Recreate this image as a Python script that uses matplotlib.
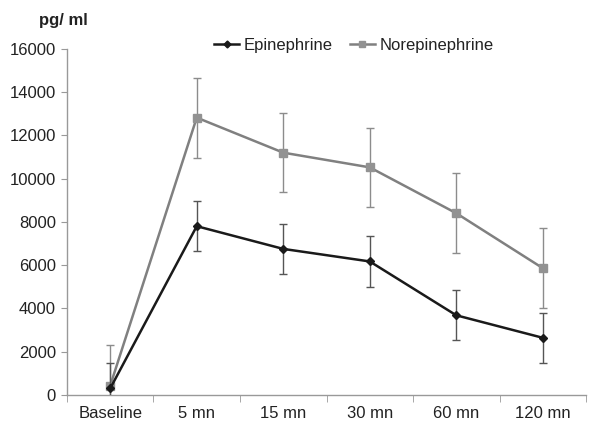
import numpy as np
import matplotlib
matplotlib.use("Agg")
from matplotlib import pyplot as plt
from matplotlib.lines import Line2D

plt.rcParams['font.family'] = ['Liberation Sans', 'DejaVu Sans']

labels = ["Baseline", "5 mn", "15 mn", "30 mn", "60 mn", "120 mn"]
epi = [300, 7800, 6750, 6170, 3680, 2640]
epi_err = [1180, 1150, 1150, 1170, 1150, 1160]
nor = [430, 12820, 11200, 10520, 8400, 5860]
nor_err = [1870, 1850, 1830, 1820, 1850, 1850]

fig = plt.figure(figsize=(5.98, 4.21), dpi=100)
ax = fig.add_axes([0.112, 0.062, 0.868, 0.822])

x = np.arange(len(labels))
ax.errorbar(x, nor, yerr=nor_err, color='#808080', lw=1.8, marker='s', ms=5.5,
            mfc='#929292', mec='#929292', ecolor='#8c8c8c', elinewidth=1,
            capsize=3, capthick=1, zorder=2)
ax.errorbar(x, epi, yerr=epi_err, color='#1a1a1a', lw=1.8, marker='D', ms=4,
            ecolor='#555555', elinewidth=1, capsize=3, capthick=1, zorder=3)

ax.set_xlim(-0.5, 5.5)
ax.set_ylim(0, 16000)
ax.set_yticks(np.arange(0, 16001, 2000))
ax.set_xticks(x)
ax.set_xticklabels(labels)
ax.set_xticks(np.arange(-0.5, 5.6, 1), minor=True)
ax.tick_params(axis='x', which='major', length=0, pad=8, labelsize=12, labelcolor='#222222')
ax.tick_params(axis='x', which='minor', length=5, color='#999999')
ax.tick_params(axis='y', length=4, color='#999999', labelsize=12, pad=4, labelcolor='#222222')

for s in ['top', 'right']:
    ax.spines[s].set_visible(False)
for s in ['left', 'bottom']:
    ax.spines[s].set_color('#999999')
    ax.spines[s].set_linewidth(1)

handles = [Line2D([], [], color='#1a1a1a', lw=1.8, marker='D', ms=3.5),
           Line2D([], [], color='#808080', lw=1.8, marker='s', ms=4.5,
                  mfc='#929292', mec='#929292')]
ax.legend(handles, ['Epinephrine', 'Norepinephrine'], loc='upper center',
          bbox_to_anchor=(0.553, 1.075), ncol=2, frameon=False, fontsize=12,
          handlelength=1.5, handletextpad=0.3, columnspacing=1.0,
          labelcolor='#222222')

fig.text(0.065, 0.94, "pg/ ml", fontsize=12, fontweight='bold', color='#222222')

fig.savefig("out.png", dpi=100)
